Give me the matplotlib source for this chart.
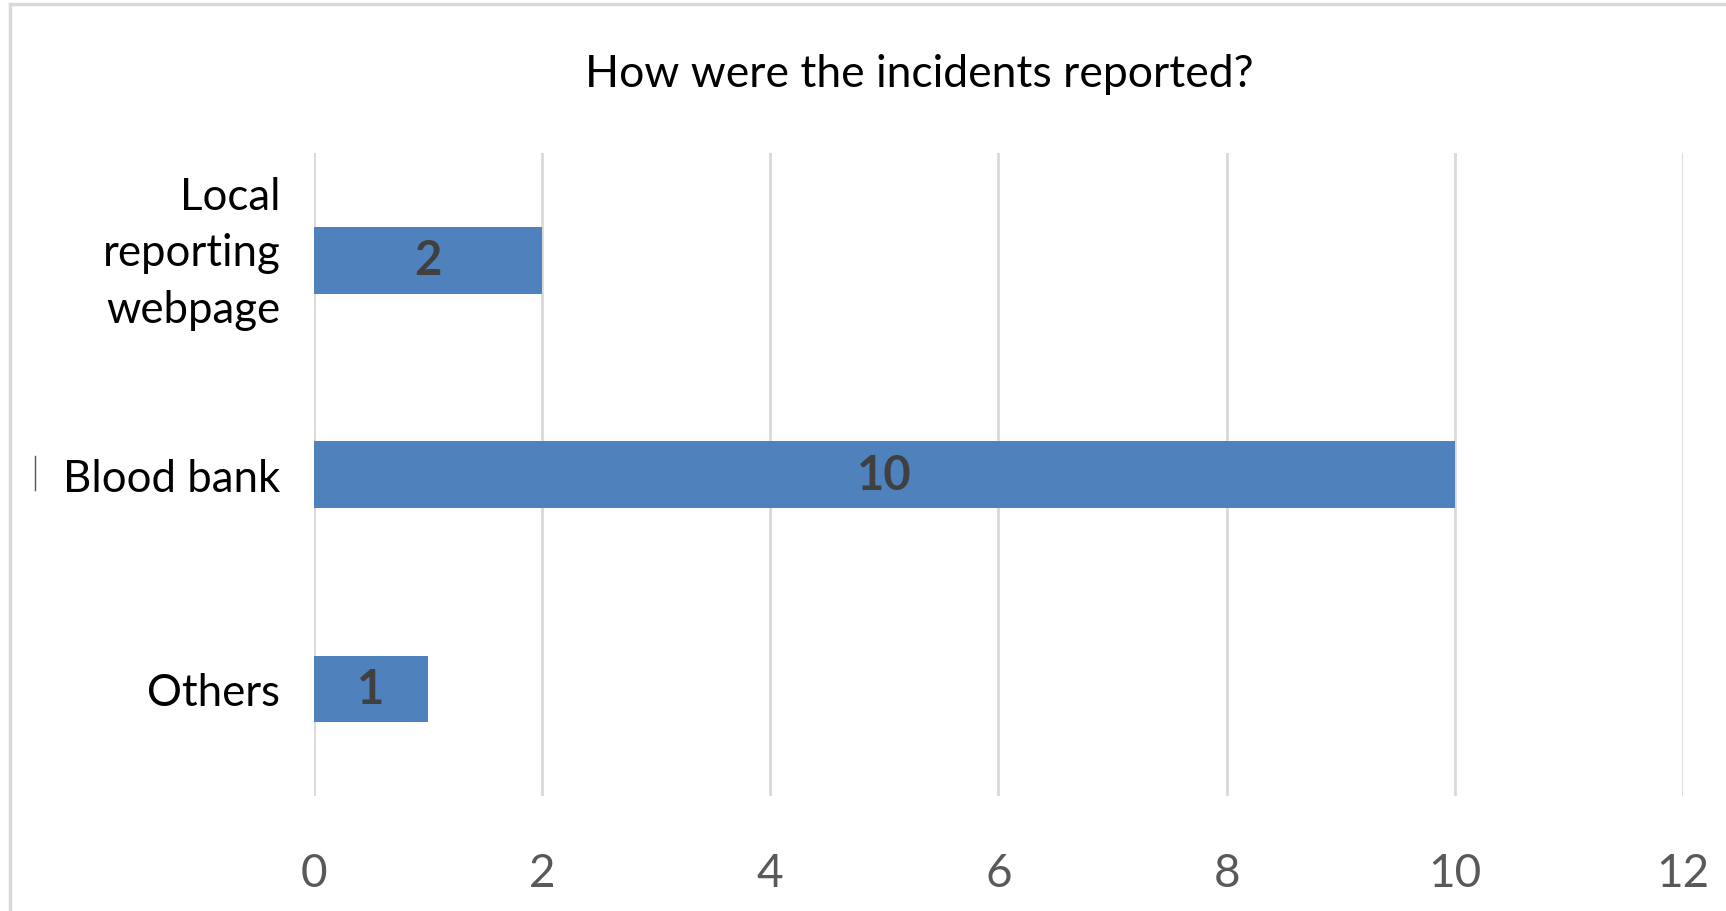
import matplotlib.pyplot as plt
from matplotlib.patches import Rectangle
from matplotlib.lines import Line2D

# Reporting channels, top to bottom
channels = ["Local\nreporting\nwebpage", "Blood bank", "Others"]
counts = [2, 10, 1]
x_ticks = [0, 2, 4, 6, 8, 10, 12]

plt.rcParams['font.family'] = ['Lato', 'DejaVu Sans']

fig = plt.figure(figsize=(17.26, 9.12), dpi=100)
ax = fig.add_axes([0.1818, 0.126, 0.7933, 0.705])

pos = list(range(len(channels)))
bars = ax.barh(pos, counts, height=0.31, color='#4F81BD', zorder=3)
ax.set_ylim(len(channels) - 0.5, -0.5)
ax.set_xlim(0, 12)
ax.set_xticks(x_ticks)
ax.set_yticks(pos)

# single-line names go on the ticks, wrapped ones are placed by hand
# slightly above the bar centre
label_pad = 24
tick_names = [c if '\n' not in c else '' for c in channels]
ax.set_yticklabels(tick_names, fontsize=31.5, color='black')
for p, c in zip(pos, channels):
    if '\n' in c:
        ax.annotate(c, xy=(0, p), xycoords=('axes fraction', 'data'),
                    xytext=(-label_pad, 5.5), textcoords='offset points',
                    ha='right', va='center', fontsize=31.5, linespacing=1.47)

ax.bar_label(bars, labels=[str(c) for c in counts], label_type='center',
             fontsize=34, fontweight='bold', color='#404040')

ax.grid(axis='x', color='#D9D9D9', linewidth=2, zorder=0)
for side in ax.spines.values():
    side.set_visible(False)
ax.tick_params(axis='both', length=0)
ax.tick_params(axis='x', labelsize=33, labelcolor='#595959', pad=40)
ax.tick_params(axis='y', pad=label_pad)

fig.text(0.5327, 0.918, "How were the incidents reported?", fontsize=32,
         ha='center', va='center', color='black')

# chart frame
top = 1 - 5 / 912
fig.patches.append(Rectangle((10 / 1726, -0.05), 1.2, top + 0.05,
                             transform=fig.transFigure, fill=False,
                             edgecolor='#D9D9D9', linewidth=2.5))
fig.lines.append(Line2D([35 / 1726, 35 / 1726], [1 - 457 / 912, 1 - 491 / 912],
                        transform=fig.transFigure, color='#555555', linewidth=1))

fig.savefig('out.png', dpi=100)
